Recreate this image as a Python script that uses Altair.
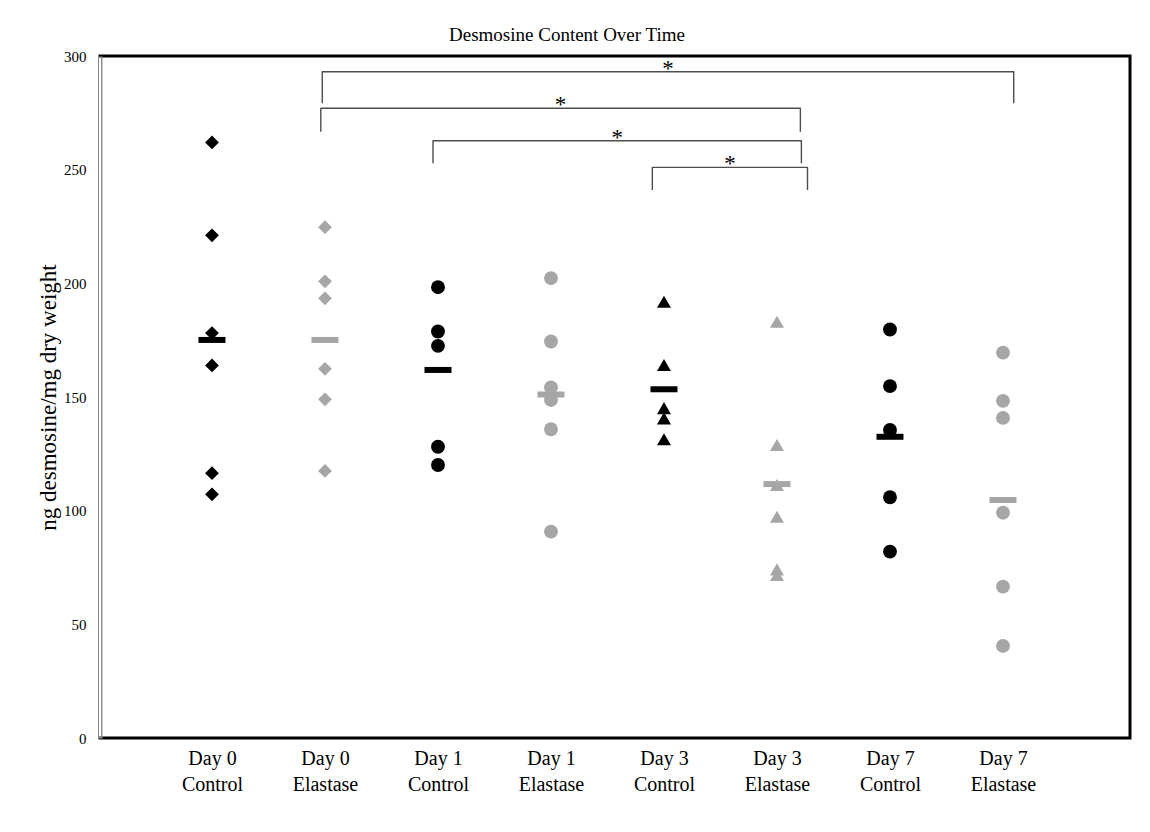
import altair as alt
import pandas as pd

# ---- data ----
chart_title = "Desmosine Content Over Time"
groups = ["Day 0 Control", "Day 0 Elastase", "Day 1 Control", "Day 1 Elastase",
          "Day 3 Control", "Day 3 Elastase", "Day 7 Control", "Day 7 Elastase"]
tick_labels = ["Day 0|Control", "Day 0|Elastase", "Day 1|Control", "Day 1|Elastase",
               "Day 3|Control", "Day 3|Elastase", "Day 7|Control", "Day 7|Elastase"]
treatments = ["Control", "Elastase", "Control", "Elastase",
              "Control", "Elastase", "Control", "Elastase"]
marker_shapes = ["diamond", "diamond", "circle", "circle",
                 "triangle-up", "triangle-up", "circle", "circle"]

day0_control = [262.0, 221.1, 178.1, 163.9, 116.5, 107.2]
day0_elastase = [224.7, 200.9, 193.4, 162.4, 149.0, 117.5]
day1_control = [198.3, 178.8, 172.5, 128.1, 120.1]
day1_elastase = [202.3, 174.4, 154.2, 148.7, 135.8, 90.8]
day3_control = [191.9, 164.1, 145.1, 140.6, 131.4]
day3_elastase = [183.1, 128.9, 111.3, 97.3, 74.2, 71.7]
day7_control = [179.7, 154.8, 135.5, 105.9, 82.0]
day7_elastase = [169.5, 148.3, 140.8, 99.1, 66.6, 40.5]

group_means = [175.1, 175.1, 161.9, 151.1, 153.4, 111.7, 132.5, 104.7]

# significance brackets (category position units / y data units)
bracket_start = [0.976, 0.963, 1.956, 3.897]
bracket_end = [7.095, 5.207, 5.216, 5.270]
bracket_top = [293.1, 277.0, 262.7, 251.0]
bracket_bottom = [279.2, 266.7, 252.8, 241.1]
bracket_label = ["*", "*", "*", "*"]

y_ticks = [0, 50, 100, 150, 200, 250, 300]

# ---- tables ----
all_values = [day0_control, day0_elastase, day1_control, day1_elastase,
              day3_control, day3_elastase, day7_control, day7_elastase]
rows = []
for i, vals in enumerate(all_values):
    for v in vals:
        rows.append({"pos": i, "value": v, "group": groups[i],
                     "treatment": treatments[i], "shape": marker_shapes[i]})
points_df = pd.DataFrame(rows)

means_df = pd.DataFrame({"pos": list(range(len(groups))), "value": group_means,
                         "treatment": treatments, "group": groups})

b_rows = []
star_rows = []
for k in range(len(bracket_start)):
    b_rows += [
        {"b": k, "o": 0, "pos": bracket_start[k], "value": bracket_bottom[k]},
        {"b": k, "o": 1, "pos": bracket_start[k], "value": bracket_top[k]},
        {"b": k, "o": 2, "pos": bracket_end[k], "value": bracket_top[k]},
        {"b": k, "o": 3, "pos": bracket_end[k], "value": bracket_bottom[k]},
    ]
    star_rows.append({"pos": (bracket_start[k] + bracket_end[k]) / 2,
                      "value": bracket_top[k], "label": bracket_label[k]})
brackets_df = pd.DataFrame(b_rows)
stars_df = pd.DataFrame(star_rows)
title_df = pd.DataFrame({"title": [chart_title]})

# ---- encodings ----
FONT = "Liberation Serif"
label_array = "[" + ",".join("'" + t + "'" for t in tick_labels) + "]"

x_enc = alt.X(
    "pos:Q",
    scale=alt.Scale(domain=[-0.991, 8.124], nice=False, zero=False),
    axis=alt.Axis(values=list(range(len(groups))),
                  labelExpr="split(" + label_array + "[datum.value], '|')",
                  grid=False, ticks=False, domain=False, title=None,
                  labelFont=FONT, labelFontSize=20, labelLineHeight=26,
                  labelColor="black", labelPadding=10, labelAngle=0,
                  labelAlign="center", labelBaseline="top", labelFlush=False),
)
y_enc = alt.Y(
    "value:Q",
    scale=alt.Scale(domain=[0, 300], nice=False, zero=True),
    axis=alt.Axis(values=y_ticks, grid=False, ticks=False,
                  domainColor="#8c8c8c", domainWidth=4,
                  labelFont=FONT, labelFontSize=15, labelColor="black",
                  labelPadding=14, labelFlush=False,
                  title="ng desmosine/mg dry weight", titleFont=FONT,
                  titleFontSize=23, titleFontWeight="normal",
                  titleColor="black", titlePadding=3),
)
color_enc = alt.Color("treatment:N",
                      scale=alt.Scale(domain=["Control", "Elastase"],
                                      range=["#000000", "#a6a6a6"]),
                      legend=None)

points = alt.Chart(points_df).mark_point(filled=True, opacity=1, strokeWidth=0).encode(
    x=x_enc, y=y_enc, color=color_enc,
    shape=alt.Shape("shape:N", scale=None, legend=None),
    size=alt.Size("shape:N",
                  scale=alt.Scale(domain=["diamond", "circle", "triangle-up"],
                                  range=[190, 196, 210]),
                  legend=None),
)

means = alt.Chart(means_df).mark_tick(orient="horizontal", size=27, thickness=6,
                                      opacity=1).encode(
    x=x_enc, y=y_enc, color=color_enc,
)

brackets = alt.Chart(brackets_df).mark_line(color="#4d4d4d", strokeWidth=1.4,
                                            strokeJoin="round").encode(
    x=x_enc, y=y_enc, detail="b:N", order="o:Q",
)

stars = alt.Chart(stars_df).mark_text(font=FONT, fontSize=23, color="black",
                                      baseline="alphabetic", align="center",
                                      dy=4).encode(
    x=x_enc, y=y_enc, text="label:N",
)

# thin white line inside the grey left frame, giving it a double-line look
left_gap = alt.Chart(means_df).mark_rule(color="white", strokeWidth=1).encode(
    x=alt.value(0), y=alt.value(2), y2=alt.value(680)
)

# chart title, placed above the plot area (slightly left of centre as in the source)
title_mark = alt.Chart(title_df).mark_text(font=FONT, fontSize=19, color="black",
                                           baseline="alphabetic", align="center").encode(
    x=alt.value(467), y=alt.value(-15), text="title:N",
)

chart = alt.layer(points, means, brackets, stars, left_gap, title_mark).properties(
    width=1030, height=682,
    padding={"left": 92, "top": 48, "right": 12, "bottom": 86},
    autosize=alt.AutoSizeParams(type="none"),
).configure_view(stroke="black", strokeWidth=3)

chart.save("out.html", embed_options={"renderer": "svg", "actions": False})
